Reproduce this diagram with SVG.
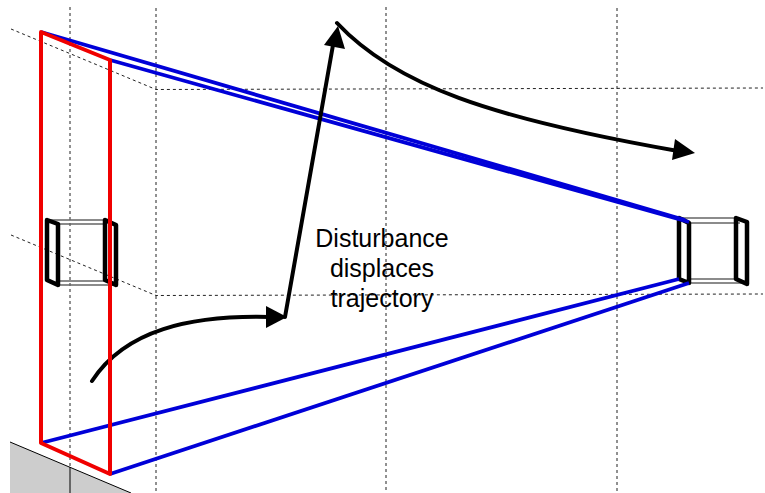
<svg xmlns="http://www.w3.org/2000/svg" width="765" height="493" viewBox="0 0 765 493">
<style>
.grid{fill:none;stroke:#222;stroke-width:1;stroke-dasharray:3 3}
.gate{fill:none;stroke:#000;stroke-width:4.500;stroke-linejoin:round}
.rail{fill:none;stroke:#666;stroke-width:1.500}
.ray{fill:none;stroke:#0000d8;stroke-width:3.800}
.arrow{fill:none;stroke:#000;stroke-width:4;stroke-linecap:round}
text{font-family:"Liberation Sans",Arial,sans-serif;font-size:25px;fill:#000;text-anchor:middle}
</style>
<rect width="765" height="493" fill="#fff"/>
<g id="floor">
<polygon points="10,442 131,493 10,493" fill="#cdcdcd"/>
<path d="M10,442L131,493" fill="none" stroke="#000" stroke-width="1"/>
<path d="M70,467V493" fill="none" stroke="#000" stroke-width="1"/>
</g>
<g id="grid">
<path class="grid" d="M70,7V467"/>
<path class="grid" d="M156,8V493"/>
<path class="grid" d="M386,7V493"/>
<path class="grid" d="M617,8V493"/>
<path class="grid" d="M11,29L156,89.500L763,88"/>
<path class="grid" d="M11,235L156,295.500L763,294"/>
</g>
<g id="left-gate">
<path class="rail" d="M50,220H104M58,224H106M58,281H104M58,285H114"/>
<polygon class="gate" points="47,220 58,224 58,285 47,280"/>
<polygon class="gate" points="105,220 116,225 116,285 105,280"/>
</g>
<g id="right-gate">
<path class="rail" d="M682,218H736M689,223H740M689,279H736M689,283H745"/>
<polygon class="gate" points="679,218 689,223 689,283 679,279"/>
<polygon class="gate" points="736,218 747,222 747,284 736,279"/>
</g>
<g id="connectors">
<path class="ray" d="M41,32L685,220"/>
<path class="ray" d="M110,60L689,222"/>
<path class="ray" d="M41,443L679,279"/>
<path class="ray" d="M110,474L689,283"/>
<path class="arrow" d="M92,381C125,330 190,315 270,317"/>
<polygon points="287,317 266,306 266,328"/>
<path class="arrow" d="M285,317L333,45"/>
<polygon points="338,26 324,45 345,49"/>
<path class="arrow" d="M337,23C395,85 490,118 678,151"/>
<polygon points="695,153 675,139 672,160"/>
</g>
<g id="aperture">
<polygon points="41,32 110,60 110,474 41,443" fill="none" stroke="#f00000" stroke-width="4" stroke-linejoin="round"/>
</g>
<g id="label">
<text x="382" y="247">Disturbance</text>
<text x="382" y="277">displaces</text>
<text x="382" y="307">trajectory</text>
</g>
</svg>
